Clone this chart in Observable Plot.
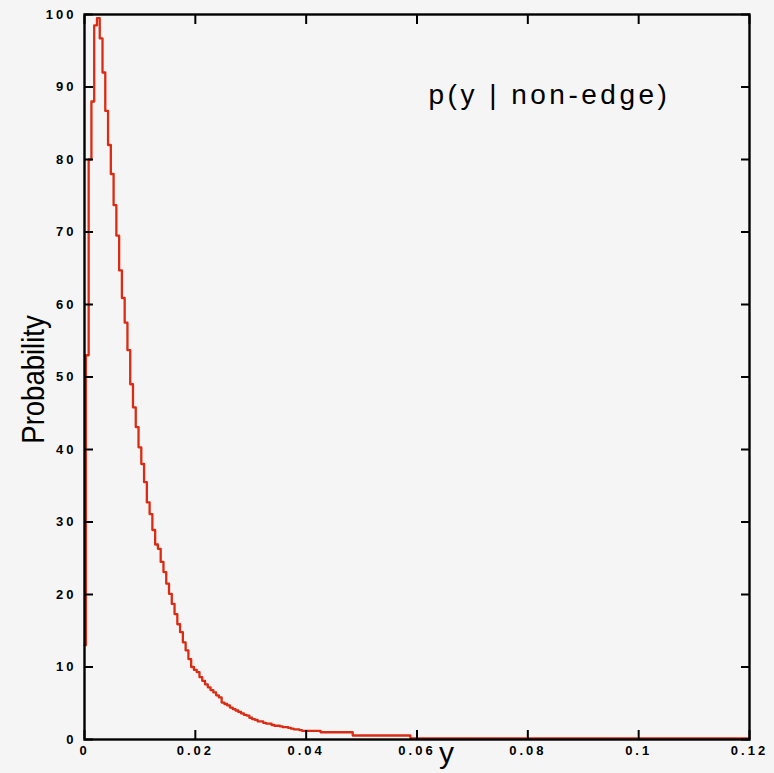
<!DOCTYPE html>
<html><head><meta charset="utf-8">
<script src="https://cdn.jsdelivr.net/npm/d3@7"></script>
<script src="https://cdn.jsdelivr.net/npm/@observablehq/plot@0.6"></script>
<style>
html,body{margin:0;padding:0;background:#f5f5f5;}
g[aria-label$="tick label"]{letter-spacing:3px;}
</style></head><body><div id="chart"></div>
<script>
// histogram bin values (bin centers at k * binWidth)
const binWidth = 0.0005;
const probs = [13, 53, 80, 88, 98.5, 99.5, 96.7, 92, 86.7, 82, 78, 73.7, 69.5, 64.7, 60.9, 57.5, 53.7, 49, 45.8, 43.1,
  40.3, 38, 35.5, 32.7, 31.1, 28.9, 26.9, 26.3, 24.5, 23.1, 21.5, 20.1, 18.7, 17.3, 15.9, 14.8, 13.4, 12.3, 11.1, 10,
  9.6, 9.3, 8.6, 8.1, 7.6, 7.2, 6.8, 6.5, 6.1, 5.8, 5.1, 4.9, 4.7, 4.4, 4.2, 4.0, 3.8, 3.6, 3.4, 3.3,
  3.0, 2.8, 2.7, 2.5, 2.5, 2.3, 2.2, 2.2, 2.0, 1.9, 1.9, 1.8, 1.7, 1.7, 1.6, 1.5, 1.4, 1.4, 1.3];
// sparse tail: step start positions and values
const tailStarts = [0.03925, 0.0426, 0.0484, 0.0588];
const tailProbs = [1.2, 1.0, 0.55, 0.15];
const xEnd = 0.12;

const xTicks = [0, 0.02, 0.04, 0.06, 0.08, 0.1, 0.12];
const xTickLabels = ["0", "0.02", "0.04", "0.06", "0.08", "0.1", "0.12"];
const yTicks = [0, 10, 20, 30, 40, 50, 60, 70, 80, 90, 100];
const yTickLabels = ["0", "10", "20", "30", "40", "50", "60", "70", "80", "90", "100"];
const title = "p(y | non-edge)";
const xLabel = "y";
const yLabel = "Probability";

const steps = probs.map((p, k) => ({x: k === 0 ? 0 : (k - 0.5) * binWidth, p}))
  .concat(tailStarts.map((x, i) => ({x, p: tailProbs[i]})));
steps.push({x: xEnd, p: tailProbs[tailProbs.length - 1]});

const tickFont = {fontSize: 13, fontWeight: "bold", strokeWidth: 2};

const chart = Plot.plot({
  width: 774, height: 773,
  marginLeft: 84, marginRight: 25, marginTop: 14, marginBottom: 34,
  style: {background: "#f5f5f5", fontFamily: "'Liberation Sans', Arial, sans-serif", color: "black"},
  x: {domain: [0, 0.12]},
  y: {domain: [0, 100]},
  marks: [
    Plot.line(steps, {x: "x", y: "p", curve: "step-after", stroke: "#dc2b13", strokeWidth: 2.3}),
    Plot.axisX(xTicks, {anchor: "bottom", tickSize: -9, tickPadding: 15, label: null,
      tickFormat: d => xTickLabels[xTicks.indexOf(d)], ...tickFont}),
    Plot.axisX(xTicks, {anchor: "top", tickSize: -9, label: null, tickFormat: () => "", ...tickFont}),
    Plot.axisY(yTicks, {anchor: "left", tickSize: -9, tickPadding: 17, label: null,
      tickFormat: d => yTickLabels[yTicks.indexOf(d)], ...tickFont}),
    Plot.axisY(yTicks, {anchor: "right", tickSize: -9, label: null, tickFormat: () => "", ...tickFont}),
    Plot.frame({stroke: "black", strokeWidth: 2.4}),
    Plot.text([title], {frameAnchor: "top-left", dx: 344, dy: 89, textAnchor: "start", lineAnchor: "bottom", fontSize: 28}),
    Plot.text([xLabel], {frameAnchor: "bottom", dx: 29.5, dy: 23.6, lineAnchor: "bottom", fontSize: 30}),
    Plot.text([yLabel], {frameAnchor: "left", dx: -51.2, dy: 2.5, rotate: -90, textAnchor: "middle", fontSize: 32})
  ]
});
document.getElementById("chart").appendChild(chart);
d3.select(chart).selectAll("text").each(function() {
  const t = this.textContent;
  if (t === title) d3.select(this).style("letter-spacing", "3.5px");
  if (t === yLabel) {
    const tr = d3.select(this).attr("transform") || "";
    d3.select(this).attr("transform", tr + " scale(0.86,1)");
  }
});
</script></body></html>
